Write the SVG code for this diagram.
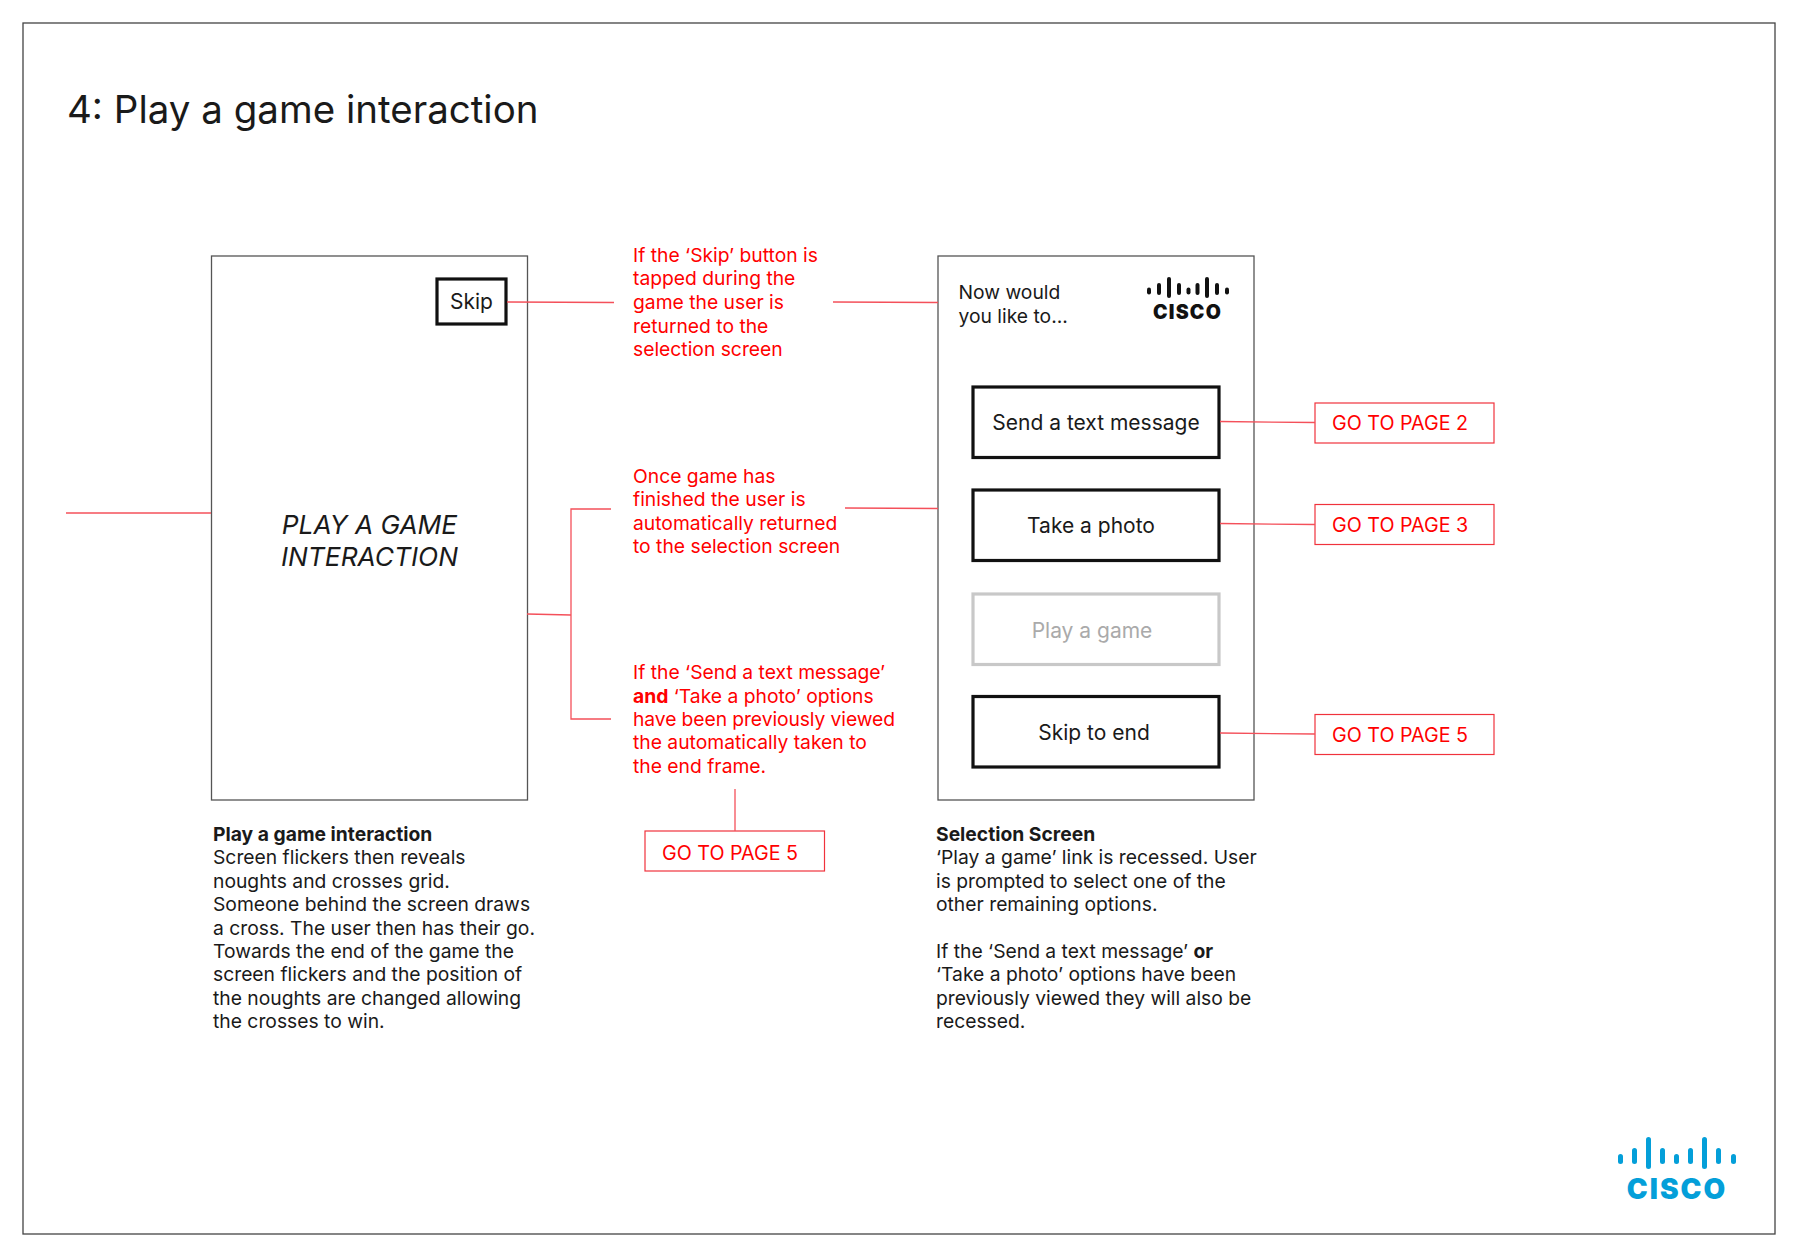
<svg xmlns="http://www.w3.org/2000/svg" width="1800" height="1259" viewBox="0 0 1800 1259">
<style>
text{font-family:"Inter","Liberation Sans",sans-serif;font-size:19.300px;fill:#1a1a1a}
.r{fill:#f00}
.b{font-weight:700}
.box{fill:#fff;stroke:#555;stroke-width:1.3}
.btn{fill:#fff;stroke:#111;stroke-width:3.200}
.go{fill:#fff;stroke:#f0323c;stroke-width:1.2}
.c{fill:none;stroke:#f4505a;stroke-width:1.3}
.logo{font-weight:900;letter-spacing:1.2px}
.t{font-size:21px}
.i{font-size:26.300px;font-style:italic}
.g{font-size:19.700px}
</style>
<rect width="1800" height="1259" fill="#fff"/>
<rect x="23" y="23" width="1752" height="1211" fill="none" stroke="#444" stroke-width="1.3"/>
<text x="67" y="123" style="font-size:38.500px">4: Play a game interaction</text>

<g id="game-screen">
<rect class="box" x="211.500" y="256" width="316" height="544"/>
<text class="i" x="369.500" y="534" text-anchor="middle">PLAY A GAME</text>
<text class="i" x="369.500" y="566" text-anchor="middle">INTERACTION</text>
</g>
<g id="skip-button">
<rect class="btn" x="437" y="279" width="69" height="45"/>
<text class="t" x="471.500" y="309" text-anchor="middle">Skip</text>
</g>

<g id="note-skip">
<text class="r" x="633" y="261.500">If the ‘Skip’ button is</text>
<text class="r" x="633" y="285">tapped during the</text>
<text class="r" x="633" y="309">game the user is</text>
<text class="r" x="633" y="332.500">returned to the</text>
<text class="r" x="633" y="355.500">selection screen</text>
</g>
<g id="note-finished">
<text class="r" x="633" y="482.500">Once game has</text>
<text class="r" x="633" y="506">finished the user is</text>
<text class="r" x="633" y="529.500">automatically returned</text>
<text class="r" x="633" y="553">to the selection screen</text>
</g>
<g id="note-viewed">
<text class="r" x="633" y="678.500">If the ‘Send a text message’</text>
<text class="r" x="633" y="702.500"><tspan class="b">and</tspan> ‘Take a photo’ options</text>
<text class="r" x="633" y="725.500" textLength="262">have been previously viewed</text>
<text class="r" x="633" y="749">the automatically taken to</text>
<text class="r" x="633" y="772.500">the end frame.</text>
</g>
<g id="go-page-5-a">
<rect class="go" x="645" y="831" width="179.500" height="40"/>
<text class="r g" x="662" y="859.500">GO TO PAGE 5</text>
</g>

<g id="selection-screen">
<rect class="box" x="938" y="256" width="316" height="544"/>
<text x="958.500" y="298.500">Now would</text>
<text x="958.500" y="322.500">you like to...</text>
<g fill="#111">
<rect x="1147" y="287.500" width="4" height="7" rx="2"/>
<rect x="1157" y="283" width="4" height="12" rx="2"/>
<rect x="1167" y="277" width="4" height="21" rx="2"/>
<rect x="1177" y="283" width="4" height="12" rx="2"/>
<rect x="1186.500" y="287.500" width="4" height="7" rx="2"/>
<rect x="1195.500" y="283" width="4" height="12" rx="2"/>
<rect x="1205" y="277" width="4" height="21" rx="2"/>
<rect x="1215" y="283" width="4" height="12" rx="2"/>
<rect x="1225" y="287.500" width="4" height="7" rx="2"/>
</g>
<text class="logo" x="1187.500" y="319" text-anchor="middle" style="font-size:19.500px;fill:#111">CISCO</text>
</g>
<g id="btn-send">
<rect class="btn" x="973" y="387" width="246" height="70.500"/>
<text class="t" x="1096" y="430" text-anchor="middle">Send a text message</text>
</g>
<g id="btn-photo">
<rect class="btn" x="973" y="490" width="246" height="70.500"/>
<text class="t" x="1091" y="533" text-anchor="middle">Take a photo</text>
</g>
<g id="btn-game">
<rect x="973" y="594" width="246" height="70.500" fill="#fff" stroke="#c8c8c8" stroke-width="3.200"/>
<text class="t" x="1092" y="638" text-anchor="middle" style="fill:#aaa">Play a game</text>
</g>
<g id="btn-skip">
<rect class="btn" x="973" y="696.500" width="246" height="70.500"/>
<text class="t" x="1094" y="739.500" text-anchor="middle">Skip to end</text>
</g>

<g id="go-page-2">
<rect class="go" x="1315" y="403" width="179" height="40"/>
<text class="r g" x="1332" y="430">GO TO PAGE 2</text>
</g>
<g id="go-page-3">
<rect class="go" x="1315" y="504.500" width="179" height="40"/>
<text class="r g" x="1332" y="532">GO TO PAGE 3</text>
</g>
<g id="go-page-5-b">
<rect class="go" x="1315" y="714.500" width="179" height="40"/>
<text class="r g" x="1332" y="742">GO TO PAGE 5</text>
</g>

<g id="caption-game">
<text class="b" x="213" y="840.500">Play a game interaction</text>
<text x="213" y="864">Screen flickers then reveals</text>
<text x="213" y="887.500">noughts and crosses grid.</text>
<text x="213" y="911">Someone behind the screen draws</text>
<text x="213" y="934.500">a cross. The user then has their go.</text>
<text x="213" y="958">Towards the end of the game the</text>
<text x="213" y="981">screen flickers and the position of</text>
<text x="213" y="1004.500">the noughts are changed allowing</text>
<text x="213" y="1028">the crosses to win.</text>
</g>
<g id="caption-selection">
<text class="b" x="936" y="840.500">Selection Screen</text>
<text x="936" y="864">‘Play a game’ link is recessed. User</text>
<text x="936" y="887.500">is prompted to select one of the</text>
<text x="936" y="911">other remaining options.</text>
<text x="936" y="958">If the ‘Send a text message’ <tspan class="b">or</tspan></text>
<text x="936" y="981">‘Take a photo’ options have been</text>
<text x="936" y="1004.500">previously viewed they will also be</text>
<text x="936" y="1028">recessed.</text>
</g>

<g id="cisco-logo">
<g fill="#049fd9">
<rect x="1618" y="1154" width="5" height="10" rx="2.500"/>
<rect x="1632" y="1148" width="5" height="16" rx="2.500"/>
<rect x="1646" y="1137" width="5" height="32" rx="2.500"/>
<rect x="1660" y="1148" width="5" height="16" rx="2.500"/>
<rect x="1674" y="1154" width="5" height="10" rx="2.500"/>
<rect x="1688" y="1148" width="5" height="16" rx="2.500"/>
<rect x="1702" y="1137" width="5" height="32" rx="2.500"/>
<rect x="1716" y="1148" width="5" height="16" rx="2.500"/>
<rect x="1731" y="1154" width="5" height="10" rx="2.500"/>
</g>
<text class="logo" x="1677" y="1199" text-anchor="middle" style="font-size:28px;fill:#049fd9;letter-spacing:2px">CISCO</text>
</g>

<g id="connectors">
<path class="c" d="M66 513H211"/>
<path class="c" d="M507 302L614 302.500"/>
<path class="c" d="M833 302L938 302.500"/>
<path class="c" d="M527 614L571 615"/>
<path class="c" d="M611 509H571V719H611"/>
<path class="c" d="M845 508L938 508.500"/>
<path class="c" d="M1220 421.500L1315 422.500"/>
<path class="c" d="M1220 523.500L1315 524.500"/>
<path class="c" d="M1220 733L1315 734"/>
<path class="c" d="M735 789V831"/>
</g>
</svg>
